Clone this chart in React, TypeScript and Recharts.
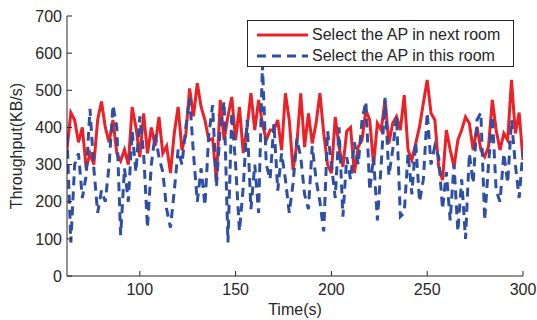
import { LineChart, Line, XAxis, YAxis, Legend } from "recharts";

// time (s), sampled every 2 s
const times = [
  62, 64, 66, 68, 70, 72, 74, 76, 78, 80, 82, 84, 86, 88, 90, 92, 94, 96, 98, 100,
  102, 104, 106, 108, 110, 112, 114, 116, 118, 120, 122, 124, 126, 128, 130, 132, 134, 136, 138, 140,
  142, 144, 146, 148, 150, 152, 154, 156, 158, 160, 162, 164, 166, 168, 170, 172, 174, 176, 178, 180,
  182, 184, 186, 188, 190, 192, 194, 196, 198, 200, 202, 204, 206, 208, 210, 212, 214, 216, 218, 220,
  222, 224, 226, 228, 230, 232, 234, 236, 238, 240, 242, 244, 246, 248, 250, 252, 254, 256, 258, 260,
  262, 264, 266, 268, 270, 272, 274, 276, 278, 280, 282, 284, 286, 288, 290, 292, 294, 296, 298, 300,
];

// throughput (KB/s) when the AP in the next room is selected
const nextRoom = [
  340, 440, 420, 360, 400, 290, 330, 300, 420, 470, 400, 360, 420, 330, 310, 340, 300, 455, 400, 320,
  438, 330, 400, 350, 428, 330, 350, 277, 385, 455, 339, 380, 505, 430, 519, 455, 420, 366, 370, 258,
  474, 366, 430, 482, 366, 455, 331, 400, 492, 393, 474, 410, 366, 393, 393, 420, 339, 492, 420, 285,
  357, 492, 347, 438, 357, 411, 492, 384, 300, 277, 428, 348, 294, 390, 400, 277, 348, 366, 447, 420,
  300, 411, 393, 474, 357, 411, 429, 393, 487, 339, 312, 357, 402, 466, 528, 438, 420, 294, 258, 393,
  340, 294, 366, 393, 428, 411, 339, 402, 339, 321, 348, 474, 393, 339, 384, 366, 528, 384, 440, 312,
];

// throughput (KB/s) when the AP in this room is selected
const thisRoom = [
  380, 90, 300, 330, 210, 270, 450, 290, 170, 230, 200, 300, 460, 400, 110, 290, 200, 390, 280, 430,
  330, 130, 300, 380, 320, 280, 180, 130, 230, 340, 300, 400, 480, 330, 200, 290, 190, 380, 460, 240,
  400, 470, 90, 440, 300, 120, 240, 420, 180, 300, 170, 570, 300, 260, 410, 230, 330, 260, 170, 250,
  370, 320, 220, 180, 350, 260, 200, 120, 390, 300, 210, 400, 160, 320, 260, 360, 300, 420, 470, 230,
  320, 150, 300, 480, 270, 340, 430, 160, 170, 330, 220, 360, 200, 260, 440, 300, 350, 320, 180, 280,
  150, 300, 120, 260, 100, 330, 250, 420, 440, 150, 300, 430, 230, 200, 330, 250, 420, 300, 210, 340,
];

const xTicks = [100, 150, 200, 250, 300];
const yTicks = [0, 100, 200, 300, 400, 500, 600, 700];

const data = times.map((t, i) => ({
  t,
  next: nextRoom[i],
  mine: thisRoom[i],
}));

const FONT = "'Liberation Sans', Arial, Helvetica, sans-serif";
const INK = "#262626";
const RED = "#ec2027";
const BLUE = "#2e4fa3";

function LegendBox(props: any) {
  const items = props.payload || [];
  return (
    <div
      style={{
        border: `1px solid ${INK}`,
        background: "#fff",
        width: 267,
        height: 47,
        boxSizing: "border-box",
        paddingTop: 3,
        fontFamily: FONT,
        fontSize: 16,
        color: INK,
      }}
    >
      {items.map((it: any) => (
        <div key={it.value} style={{ display: "flex", alignItems: "center", height: 21 }}>
          <svg width={64} height={21}>
            <line
              x1={9}
              x2={60}
              y1={11}
              y2={11}
              stroke={it.color}
              strokeWidth={3}
              strokeDasharray={it.payload?.strokeDasharray}
            />
          </svg>
          <span>{it.value}</span>
        </div>
      ))}
    </div>
  );
}

export default function App() {
  return (
    <div style={{ position: "absolute", left: 0, top: 0, width: 537, height: 320, background: "#fff" }}>
      <LineChart
        width={537}
        height={320}
        data={data}
        margin={{ top: 16, right: 14, bottom: 0, left: 0 }}
      >
        <XAxis
          dataKey="t"
          type="number"
          domain={[62, 300]}
          ticks={xTicks}
          allowDataOverflow
          height={44}
          stroke={INK}
          tickSize={-5}
          tickMargin={13}
          tick={{ fill: INK, fontSize: 16, fontFamily: FONT }}
          label={{
            content: () => (
              <text x={295} y={315} textAnchor="middle" fill={INK} fontSize={16} fontFamily={FONT}>
                Time(s)
              </text>
            ),
          }}
        />
        <XAxis
          xAxisId="top"
          dataKey="t"
          type="number"
          orientation="top"
          domain={[62, 300]}
          ticks={xTicks}
          allowDataOverflow
          height={0}
          stroke={INK}
          tickSize={-5}
          tick={false}
        />
        <YAxis
          domain={[0, 700]}
          ticks={yTicks}
          width={67}
          stroke={INK}
          tickSize={-5}
          tickMargin={10}
          tick={{ fill: INK, fontSize: 16, fontFamily: FONT }}
          label={{
            content: () => (
              <text
                x={22}
                y={146}
                transform="rotate(-90 22 146)"
                textAnchor="middle"
                fill={INK}
                fontSize={16}
                fontFamily={FONT}
              >
                Throughput(KB/s)
              </text>
            ),
          }}
        />
        <YAxis
          yAxisId="right"
          orientation="right"
          domain={[0, 700]}
          ticks={yTicks}
          width={0}
          stroke={INK}
          tickSize={-5}
          tick={false}
        />
        <Legend
          layout="horizontal"
          align="center"
          verticalAlign="middle"
          content={<LegendBox />}
          wrapperStyle={{ position: "absolute", left: 247, top: 20, width: 267 }}
        />
        <Line
          type="linear"
          dataKey="next"
          name="Select the AP in next room"
          stroke={RED}
          strokeWidth={3}
          dot={false}
          isAnimationActive={false}
        />
        <Line
          type="linear"
          dataKey="mine"
          name="Select the AP in this room"
          stroke={BLUE}
          strokeWidth={3}
          strokeDasharray="9 6"
          dot={false}
          isAnimationActive={false}
        />
      </LineChart>
    </div>
  );
}
